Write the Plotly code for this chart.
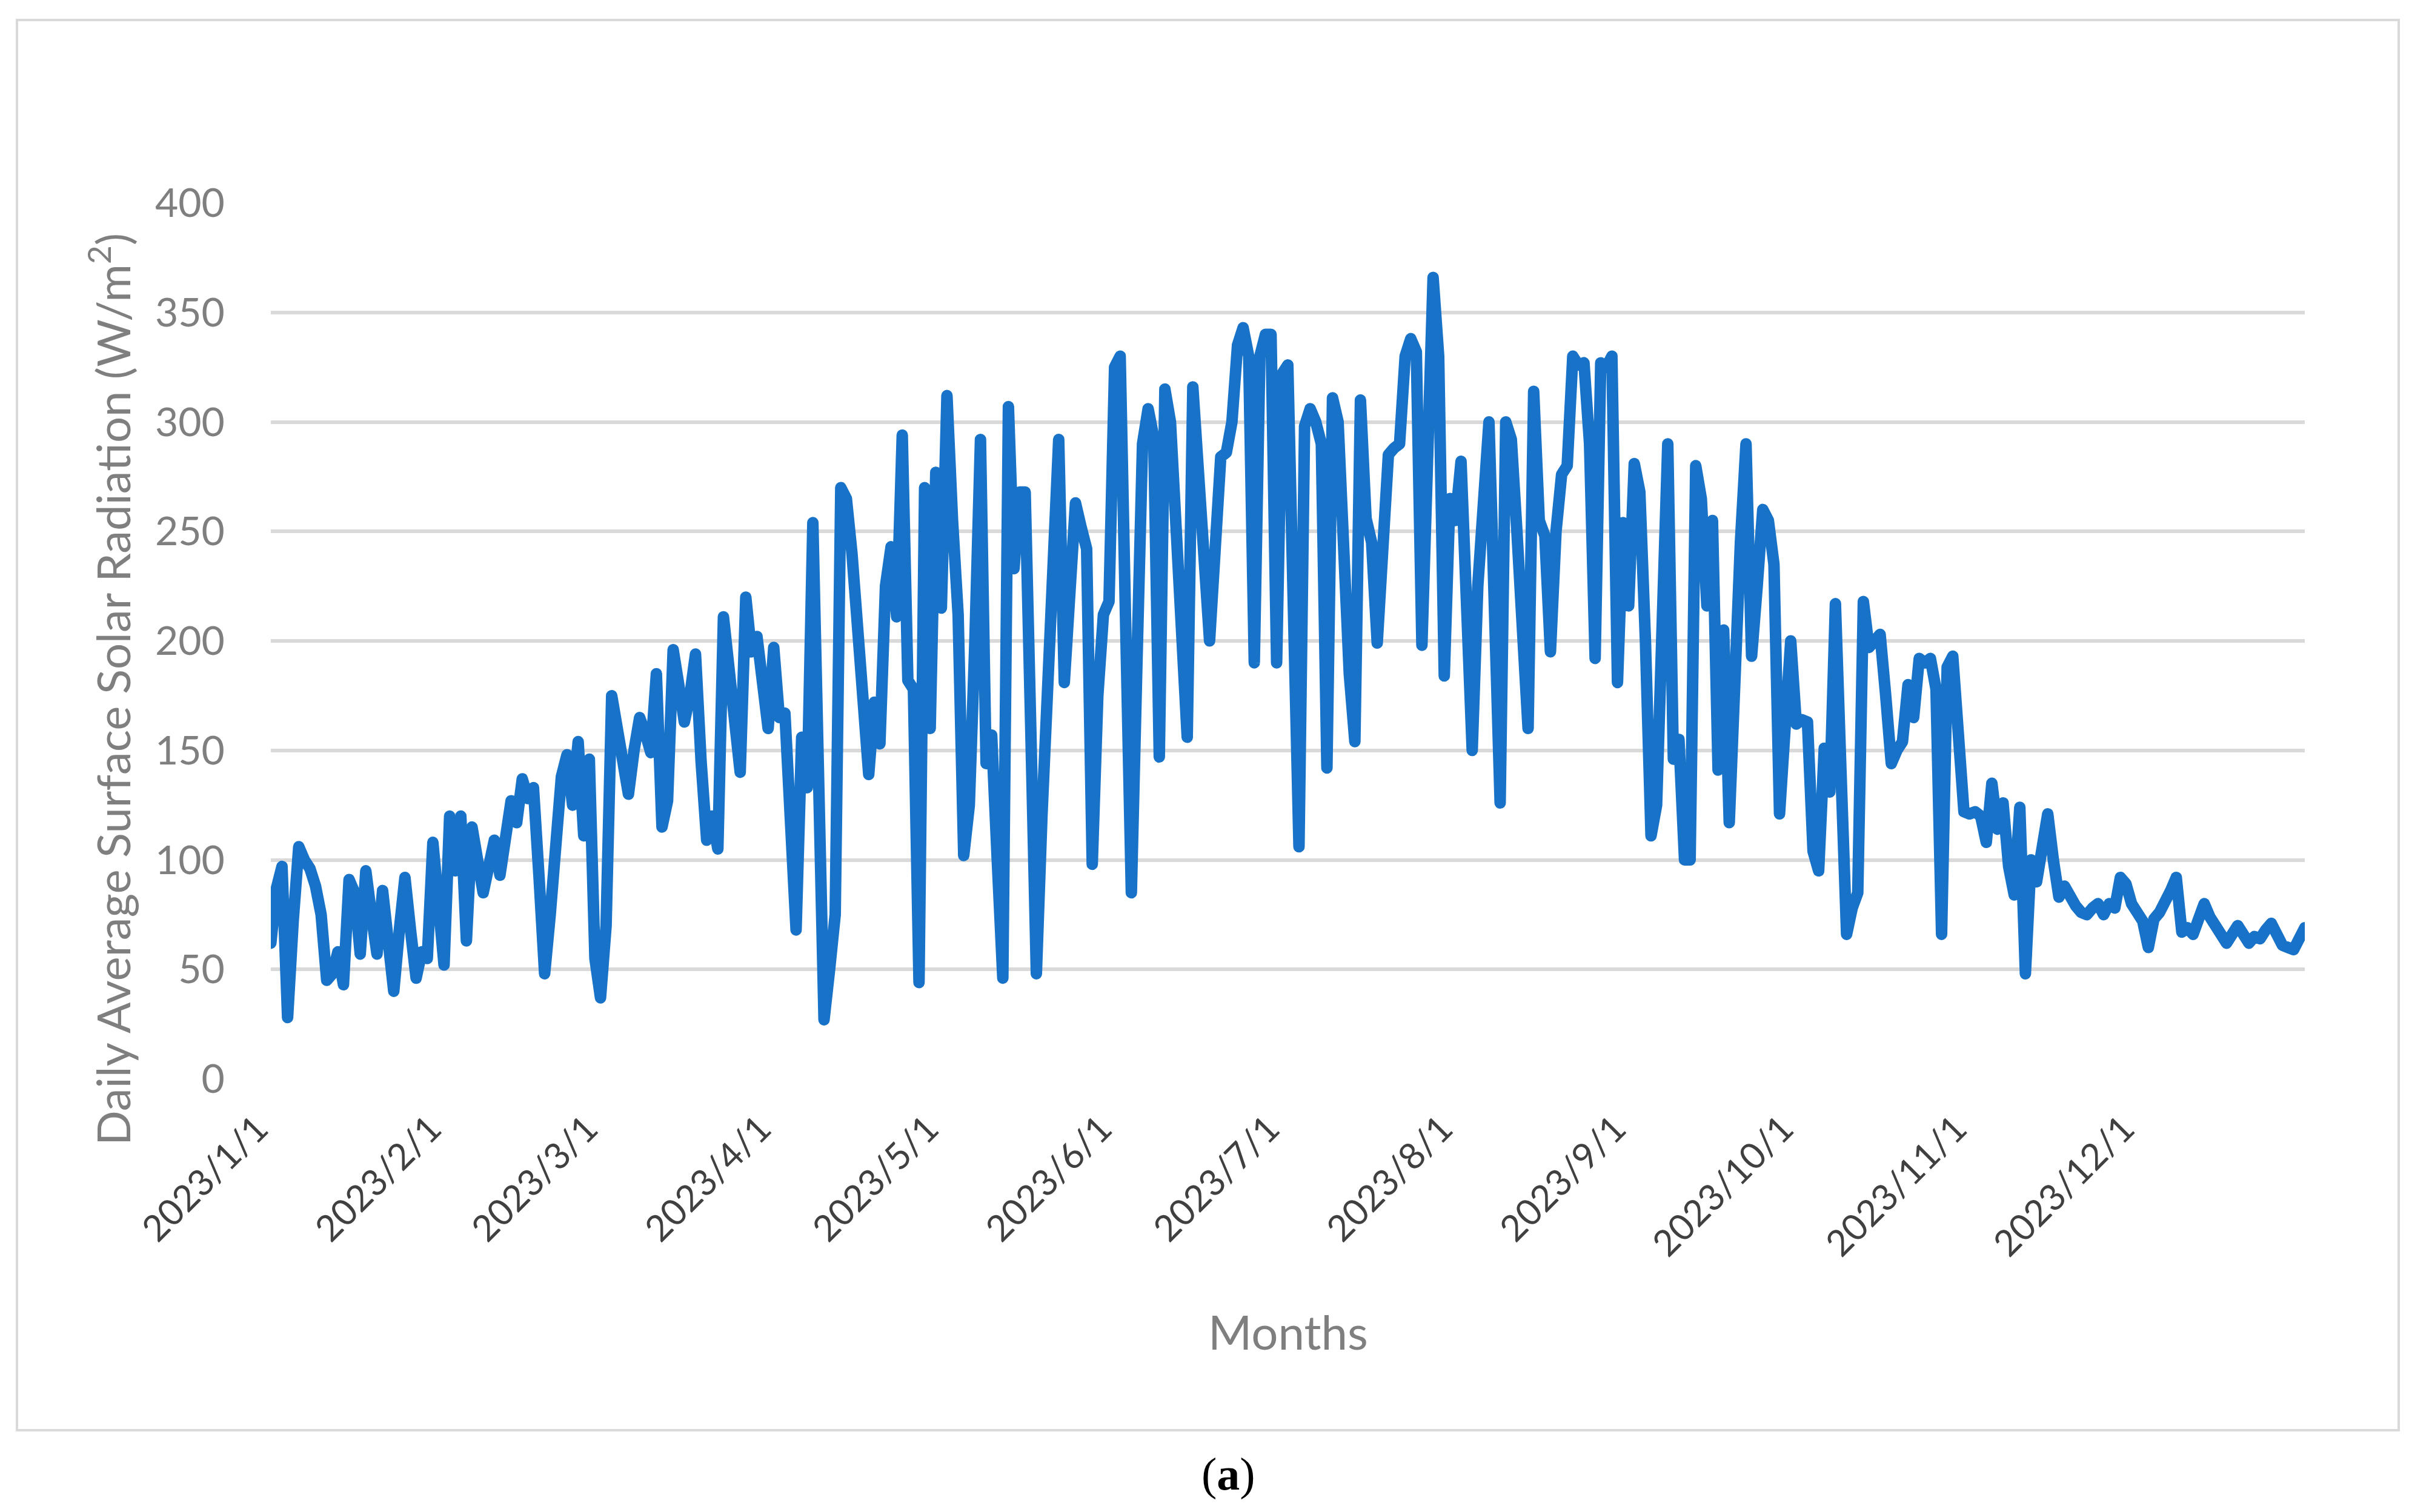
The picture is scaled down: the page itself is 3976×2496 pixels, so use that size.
import pandas as pd
import plotly.graph_objects as go

# Daily average surface solar radiation (W/m2), 2023
jan = [62, 87, 97, 28, 72, 106, 100, 96, 88, 75, 45, 48, 58, 43, 91, 85, 57, 95, 75, 57,
       86, 65, 40, 68, 92, 68, 46, 58, 55, 108, 80]
feb = [52, 120, 95, 120, 63, 115, 100, 85, 97, 109, 93, 115, 127, 117, 137, 128, 133, 92,
       48, 75, 105, 138, 148, 125, 154, 111, 146, 55]
mar = [37, 70, 175, 160, 150, 130, 150, 165, 158, 149, 185, 115, 127, 196, 180, 163, 175,
       194, 145, 109, 120, 105, 211, 190, 165, 140, 220, 195, 202, 180, 160]
apr = [197, 165, 167, 117, 68, 156, 133, 254, 140, 27, 50, 75, 270, 265, 240, 210, 175,
       139, 172, 153, 225, 243, 211, 294, 182, 178, 44, 270, 160, 277]
may = [215, 312, 255, 212, 102, 125, 200, 292, 144, 157, 100, 46, 307, 233, 268, 268, 160,
       48, 120, 185, 220, 292, 181, 222, 263, 252, 242, 98, 175, 212, 218]
jun = [325, 330, 205, 85, 190, 290, 306, 293, 147, 315, 300, 255, 207, 156, 316, 275, 255,
       200, 242, 284, 286, 300, 335, 343, 330, 190, 330, 340, 340, 190]
jul = [322, 326, 215, 106, 298, 306, 300, 290, 142, 311, 300, 240, 185, 154, 310, 256, 245,
       199, 240, 285, 288, 290, 330, 338, 332, 198, 282, 366, 330, 184, 265]
aug = [255, 282, 216, 150, 225, 270, 300, 213, 126, 300, 292, 250, 205, 160, 314, 255, 248,
       195, 250, 276, 280, 330, 326, 327, 290, 192, 327, 325, 330, 181, 254]
sep = [216, 281, 268, 200, 111, 125, 200, 290, 146, 155, 100, 100, 280, 265, 216, 255, 141,
       205, 117, 200, 245, 290, 193, 225, 260, 255, 235, 121, 165, 200]
oct_ = [162, 164, 163, 104, 95, 151, 131, 217, 140, 66, 78, 85, 218, 197, 200, 203, 175,
        144, 150, 154, 180, 165, 192, 190, 192, 178, 66, 188, 193, 160, 122]
nov = [121, 122, 120, 108, 135, 114, 126, 97, 84, 124, 48, 100, 90, 110, 121, 100, 83, 88,
       82, 79, 76, 75, 78, 80, 75, 80, 78, 92, 89, 80]
dec = [76, 72, 60, 73, 76, 80, 86, 92, 67, 69, 66, 73, 80, 74, 70, 66, 62, 66, 70, 66, 62,
       65, 64, 68, 71, 66, 61, 60, 59, 64, 69]

values = jan + feb + mar + apr + may + jun + jul + aug + sep + oct_ + nov + dec
dates = pd.date_range("2023-01-01", "2023-12-31", freq="D")

tick_dates = pd.date_range("2023-01-01", "2023-12-01", freq="MS")
tick_labels = ["2023/1/1", "2023/2/1", "2023/3/1", "2023/4/1", "2023/5/1", "2023/6/1",
               "2023/7/1", "2023/8/1", "2023/9/1", "2023/10/1", "2023/11/1", "2023/12/1"]
y_ticks = [0, 50, 100, 150, 200, 250, 300, 350, 400]

W, H = 3976, 2496
L, R, T, B = 439, 3796, 327, 1773  # plot area in pixels
FONT = "Lato, 'Open Sans', sans-serif"
GRID = "#d9d9d9"


def px(xp):
    return (xp - L) / (R - L)


def py(yp):
    return (B - yp) / (B - T)


fig = go.Figure()
fig.add_trace(go.Scatter(
    x=dates, y=values, mode="lines",
    line=dict(color="#1873C8", width=19),
    hoverinfo="skip", showlegend=False,
))

fig.update_layout(
    width=W, height=H,
    margin=dict(l=L, r=W - R, t=T, b=H - B, pad=0),
    paper_bgcolor="white", plot_bgcolor="white",
    font=dict(family=FONT, size=66, color="#7f7f7f"),
    showlegend=False,
)
fig.update_xaxes(
    type="date",
    range=[dates[0], dates[-1]],
    tickvals=tick_dates, ticktext=tick_labels,
    tickangle=-45,
    tickfont=dict(family=FONT, size=60, color="#404040"),
    showgrid=False, zeroline=False, showline=False,
    ticks="outside", ticklen=22, tickcolor="rgba(0,0,0,0)",
    ticklabelshift=-22,
)
fig.update_yaxes(
    range=[0, 400],
    tickvals=y_ticks,
    tickfont=dict(family=FONT, size=66, color="#7f7f7f"),
    showgrid=True, gridcolor=GRID, gridwidth=6,
    zeroline=False, showline=False,
    ticks="outside", ticklen=62, tickcolor="rgba(0,0,0,0)",
)

# chart-area border
fig.add_shape(type="rect", xref="paper", yref="paper",
              x0=px(20), x1=px(3951), y0=py(2353), y1=py(25),
              line=dict(color=GRID, width=4), fillcolor="rgba(0,0,0,0)", layer="below")

fig.add_annotation(text="Daily Average Surface Solar Radiation (W/m<sup>2</sup>)",
                   xref="paper", yref="paper", x=px(172), y=py(1130),
                   textangle=-90, showarrow=False, xanchor="center", yanchor="middle",
                   font=dict(family=FONT, size=76, color="#7f7f7f"))
fig.add_annotation(text="Months", xref="paper", yref="paper", x=px(2118), y=py(2190),
                   showarrow=False, xanchor="center", yanchor="middle",
                   font=dict(family=FONT, size=78, color="#7f7f7f"))
fig.add_annotation(text="(<b>a</b>)", xref="paper", yref="paper", x=px(2019), y=py(2425),
                   showarrow=False, xanchor="center", yanchor="middle",
                   font=dict(family="'Liberation Serif', serif", size=76, color="black"))

post = ("document.querySelectorAll('path.js-line').forEach(function(p){"
        "p.style.strokeLinejoin='round';p.style.strokeLinecap='round';});")
fig.write_html("out.html", post_script=post)
